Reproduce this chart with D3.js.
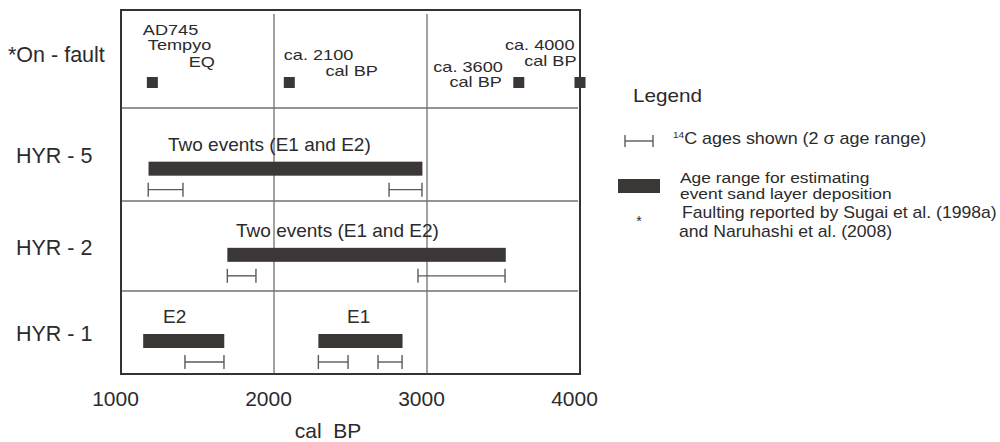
<!DOCTYPE html>
<html>
<head>
<meta charset="utf-8">
<script src="https://cdn.jsdelivr.net/npm/d3@7"></script>
<style>
  body { margin: 0; background: #fff; }
  svg { display: block; font-family: "Liberation Sans", Arial, sans-serif; }
</style>
</head>
<body>
<svg id="chart" width="1000" height="442"></svg>
<script>
// values (cal BP)
const ageTicks = [1000, 2000, 3000, 4000];
const gridAges = [2000, 3000];
const rows = ["*On - fault", "HYR - 5", "HYR - 2", "HYR - 1"];

const onFaultAges = [1205, 2100, 3600, 4000];
const onFaultNotes = [["AD745", "Tempyo", "EQ"], ["ca. 2100", "cal BP"], ["ca. 3600", "cal BP"], ["ca. 4000", "cal BP"]];

// thick bars: age range for event sand layer deposition
const eventRanges = [
  {row: "HYR - 5", from: 1180, to: 2970},
  {row: "HYR - 2", from: 1695, to: 3515},
  {row: "HYR - 1", from: 1145, to: 1675},
  {row: "HYR - 1", from: 2290, to: 2840}
];

// 14C ages, 2 sigma
const c14Ranges = [
  {row: "HYR - 5", from: 1178, to: 1405},
  {row: "HYR - 5", from: 2752, to: 2967},
  {row: "HYR - 2", from: 1695, to: 1882},
  {row: "HYR - 2", from: 2941, to: 3510},
  {row: "HYR - 1", from: 1418, to: 1673},
  {row: "HYR - 1", from: 2290, to: 2484},
  {row: "HYR - 1", from: 2680, to: 2837}
];

const eventLabels = [
  {row: "HYR - 5", at: 1307, text: "Two events (E1 and E2)"},
  {row: "HYR - 2", at: 1752, text: "Two events (E1 and E2)"},
  {row: "HYR - 1", at: 1275, text: "E2"},
  {row: "HYR - 1", at: 2477, text: "E1"}
];

const legendTitle = "Legend";
const legendC14 = "C ages shown (2 σ age range)";
const legendBar = ["Age range for estimating", "event sand layer deposition"];
const legendStar = ["Faulting reported by Sugai et al. (1998a)", "and Naruhashi et al. (2008)"];
const xTitle = "cal  BP";

// layout
const plot = {left: 121, right: 580, top: 10, bottom: 374};
const ink = "#2b2b2b", barFill = "#3c3737", gridCol = "#707070";

// the on-fault notes are hand placed next to their squares: [dx, dy, anchor]
const noteLayout = [
  [[-9.5, -47.5, "start"], [-4.5, -32.5, "start"], [62.5, -15.5, "end"]],
  [[-5.5, -22.5, "start"], [88.5, -6.5, "end"]],
  [[-16, -10.5, "end"], [-17, 4.5, "end"]],
  [[-5.5, -32.5, "end"], [-3.5, -16.5, "end"]]
];

const svg = d3.select("#chart");

const x = d3.scaleLinear().domain([1000, 4000]).range([plot.left, plot.right]);
// row frame edges (rows are not of equal height in the figure)
const yEdge = d3.scaleLinear().domain([0, 1, 2, 3, 4]).range([plot.top, 108, 201, 291, plot.bottom]);
// bar centre in each row
const yMid = d3.scalePoint().domain(rows).range([82.5, 341]);

function stretchText(g, px, py, str, size, k, anchor) {
  return g.append("text")
    .attr("transform", "translate(" + px + "," + py + ") scale(" + k + ",1)")
    .attr("font-size", size)
    .attr("text-anchor", anchor || "start")
    .attr("fill", ink)
    .text(str);
}

function errorBar(g, x0, x1, yy, cap) {
  const e = g.append("g").attr("stroke", "#5a5a5a").attr("stroke-width", 1.4).attr("fill", "none");
  e.append("line").attr("x1", x0).attr("x2", x1).attr("y1", yy).attr("y2", yy);
  e.append("line").attr("x1", x0).attr("x2", x0).attr("y1", yy - cap).attr("y2", yy + cap);
  e.append("line").attr("x1", x1).attr("x2", x1).attr("y1", yy - cap).attr("y2", yy + cap);
}

// grid + row separators
svg.append("g").selectAll("line").data(gridAges).join("line")
  .attr("x1", d => x(d)).attr("x2", d => x(d))
  .attr("y1", plot.top + 4).attr("y2", plot.bottom)
  .attr("stroke", gridCol).attr("stroke-width", 1.3);

svg.append("g").selectAll("line").data([1, 2, 3]).join("line")
  .attr("x1", plot.left).attr("x2", plot.right - 2)
  .attr("y1", d => yEdge(d)).attr("y2", d => yEdge(d))
  .attr("stroke", gridCol).attr("stroke-width", 1.5);

// frame
svg.append("rect")
  .attr("x", plot.left).attr("y", plot.top)
  .attr("width", plot.right - plot.left).attr("height", plot.bottom - plot.top)
  .attr("fill", "none").attr("stroke", "#333").attr("stroke-width", 2);

// row labels
svg.append("g").selectAll("text").data(rows).join("text")
  .attr("x", (d, i) => i === 0 ? 8 : 16)
  .attr("y", (d, i) => (yEdge(i) + yEdge(i + 1)) / 2)
  .attr("dy", (d, i) => i === 0 ? "0.15em" : "0.4em")
  .attr("font-size", 21.5)
  .attr("fill", ink)
  .text(d => d);

// on-fault squares
const sq = 11;
svg.append("g").selectAll("rect").data(onFaultAges).join("rect")
  .attr("x", d => x(d) - sq / 2).attr("y", yMid(rows[0]) - sq / 2)
  .attr("width", sq).attr("height", sq)
  .attr("fill", barFill);

onFaultNotes.forEach((lines, i) => {
  lines.forEach((t, j) => {
    const l = noteLayout[i][j];
    stretchText(svg, x(onFaultAges[i]) + l[0], yMid(rows[0]) + l[1], t, 14.5, 1.25, l[2]);
  });
});

// event bars
const barH = 14;
svg.append("g").selectAll("rect").data(eventRanges).join("rect")
  .attr("x", d => x(d.from)).attr("y", d => yMid(d.row) - barH / 2)
  .attr("width", d => x(d.to) - x(d.from)).attr("height", barH)
  .attr("fill", barFill);

// 14C error bars
const errG = svg.append("g");
c14Ranges.forEach(d => errorBar(errG, x(d.from), x(d.to), yMid(d.row) + 21, 7));

// event labels
svg.append("g").selectAll("text").data(eventLabels).join("text")
  .attr("x", d => x(d.at))
  .attr("y", d => yMid(d.row) - 18)
  .attr("font-size", 19)
  .attr("fill", ink)
  .text(d => d.text);

// x axis (labels only)
const axis = svg.append("g")
  .attr("transform", "translate(0," + plot.bottom + ")")
  .call(d3.axisBottom(x).tickValues(ageTicks).tickSize(0).tickPadding(17).tickFormat(d3.format("d")));
axis.select(".domain").remove();
axis.selectAll("text")
  .attr("font-size", 21)
  .attr("font-family", "Liberation Sans, Arial, sans-serif")
  .attr("fill", ink)
  .attr("dx", -6);

svg.append("text")
  .attr("x", 328).attr("y", 438)
  .attr("text-anchor", "middle")
  .attr("font-size", 21)
  .attr("fill", ink)
  .attr("xml:space", "preserve")
  .style("white-space", "pre")
  .text(xTitle);

// legend
const lg = svg.append("g");
stretchText(lg, 633, 102, legendTitle, 18, 1.15);

errorBar(lg, 625, 653, 141, 6);
const c14Text = stretchText(lg, 673, 144, "", 16, 1.12);
c14Text.append("tspan").attr("font-size", 9).attr("dy", -6).text("14");
c14Text.append("tspan").attr("dy", 6).text(legendC14);

lg.append("rect").attr("x", 618).attr("y", 179).attr("width", 42).attr("height", 14).attr("fill", barFill);
legendBar.forEach((t, i) => stretchText(lg, 680, 183 + i * 16, t, 14.5, 1.2));

stretchText(lg, 639, 226, "*", 14, 1, "middle");
legendStar.forEach((t, i) => stretchText(lg, 682 - i * 3, 218 + i * 19, t, 16, 1.1));
</script>
</body>
</html>
